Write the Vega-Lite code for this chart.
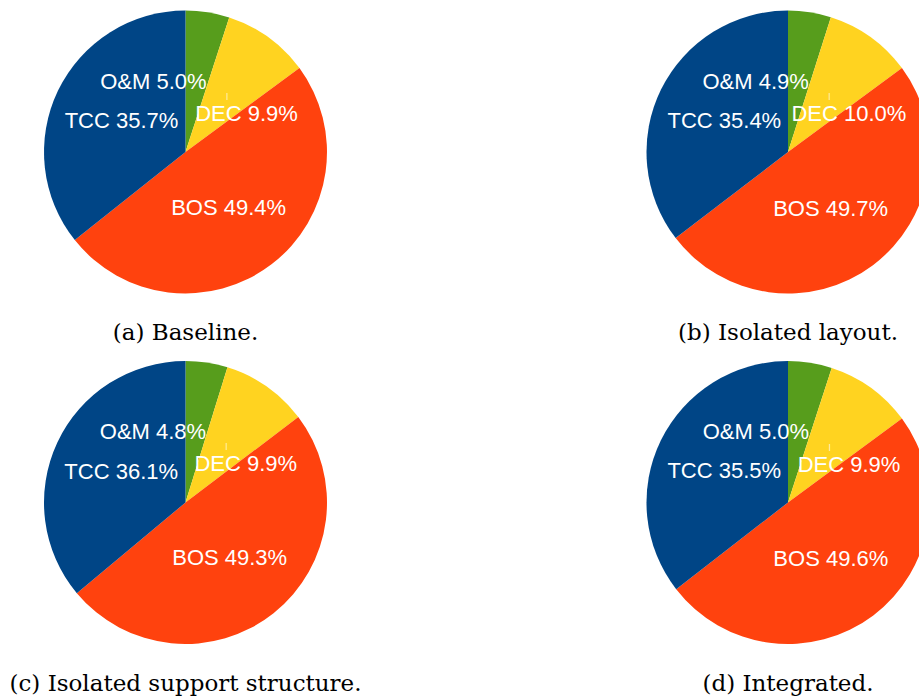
{
  "$schema": "https://vega.github.io/schema/vega-lite/v6.json",
  "padding": 0,
  "background": "white",
  "bounds": "flush",
  "columns": 2,
  "spacing": {"row": 46.5, "column": 231.5},
  "datasets": {
    "shares": [
      {"panel": "a", "item": "O&M", "seq": 1, "share": 5.0},
      {"panel": "a", "item": "DEC", "seq": 2, "share": 9.9},
      {"panel": "a", "item": "BOS", "seq": 3, "share": 49.4},
      {"panel": "a", "item": "TCC", "seq": 4, "share": 35.7},
      {"panel": "b", "item": "O&M", "seq": 1, "share": 4.9},
      {"panel": "b", "item": "DEC", "seq": 2, "share": 10.0},
      {"panel": "b", "item": "BOS", "seq": 3, "share": 49.7},
      {"panel": "b", "item": "TCC", "seq": 4, "share": 35.4},
      {"panel": "c", "item": "O&M", "seq": 1, "share": 4.8},
      {"panel": "c", "item": "DEC", "seq": 2, "share": 9.9},
      {"panel": "c", "item": "BOS", "seq": 3, "share": 49.3},
      {"panel": "c", "item": "TCC", "seq": 4, "share": 36.1},
      {"panel": "d", "item": "O&M", "seq": 1, "share": 5.0},
      {"panel": "d", "item": "DEC", "seq": 2, "share": 9.9},
      {"panel": "d", "item": "BOS", "seq": 3, "share": 49.6},
      {"panel": "d", "item": "TCC", "seq": 4, "share": 35.5}
    ]
  },
  "config": {
    "view": {"stroke": null},
    "title": {"font": "DejaVu Serif", "fontSize": 23, "fontWeight": "normal", "color": "black", "anchor": "middle", "orient": "bottom", "baseline": "alphabetic", "offset": 18},
    "text": {"font": "Liberation Sans", "fontSize": 22, "fill": "white"}
  },
  "concat": [
    {
      "width": 371, "height": 304,
      "title": "(a) Baseline.",
      "data": {"name": "shares"},
      "transform": [
        {"filter": "datum.panel === 'a'"},
        {"calculate": "datum.item + ' ' + format(datum.share, '.1f') + '%'", "as": "label"}
      ],
      "encoding": {
        "theta": {"field": "share", "type": "quantitative", "stack": true},
        "order": {"field": "seq", "type": "quantitative"}
      },
      "layer": [
        {"mark": {"type": "arc", "outerRadius": 141.5},
         "encoding": {"color": {"field": "item", "type": "nominal", "legend": null, "scale": {"domain": ["TCC", "BOS", "DEC", "O&M"], "range": ["#004586", "#ff420e", "#ffd320", "#579d1c"]}}}},
        {"mark": {"type": "text", "radius": 71},
         "encoding": {"text": {"condition": {"test": "datum.item === 'O&M' || datum.item === 'DEC'", "value": ""}, "field": "label"}}},
        {"mark": {"type": "text", "radius": 71, "align": "right", "dx": 10},
         "encoding": {"text": {"condition": {"test": "datum.item === 'O&M'", "field": "label"}, "value": ""}}},
        {"mark": {"type": "text", "radius": 71, "dx": 19.5, "dy": 20},
         "encoding": {"text": {"condition": {"test": "datum.item === 'DEC'", "field": "label"}, "value": ""}}},
        {"mark": {"type": "text", "radius": 71, "dy": 2, "fontSize": 7},
         "encoding": {"text": {"condition": {"test": "datum.item === 'DEC'", "value": "|"}, "value": ""}}}
      ]
    },
    {
      "width": 371, "height": 304,
      "title": "(b) Isolated layout.",
      "data": {"name": "shares"},
      "transform": [
        {"filter": "datum.panel === 'b'"},
        {"calculate": "datum.item + ' ' + format(datum.share, '.1f') + '%'", "as": "label"}
      ],
      "encoding": {
        "theta": {"field": "share", "type": "quantitative", "stack": true},
        "order": {"field": "seq", "type": "quantitative"}
      },
      "layer": [
        {"mark": {"type": "arc", "outerRadius": 141.5},
         "encoding": {"color": {"field": "item", "type": "nominal", "legend": null, "scale": {"domain": ["TCC", "BOS", "DEC", "O&M"], "range": ["#004586", "#ff420e", "#ffd320", "#579d1c"]}}}},
        {"mark": {"type": "text", "radius": 71},
         "encoding": {"text": {"condition": {"test": "datum.item === 'O&M' || datum.item === 'DEC'", "value": ""}, "field": "label"}}},
        {"mark": {"type": "text", "radius": 71, "align": "right", "dx": 10},
         "encoding": {"text": {"condition": {"test": "datum.item === 'O&M'", "field": "label"}, "value": ""}}},
        {"mark": {"type": "text", "radius": 71, "dx": 19.5, "dy": 20},
         "encoding": {"text": {"condition": {"test": "datum.item === 'DEC'", "field": "label"}, "value": ""}}},
        {"mark": {"type": "text", "radius": 71, "dy": 2, "fontSize": 7},
         "encoding": {"text": {"condition": {"test": "datum.item === 'DEC'", "value": "|"}, "value": ""}}}
      ]
    },
    {
      "width": 371, "height": 304,
      "title": "(c) Isolated support structure.",
      "data": {"name": "shares"},
      "transform": [
        {"filter": "datum.panel === 'c'"},
        {"calculate": "datum.item + ' ' + format(datum.share, '.1f') + '%'", "as": "label"}
      ],
      "encoding": {
        "theta": {"field": "share", "type": "quantitative", "stack": true},
        "order": {"field": "seq", "type": "quantitative"}
      },
      "layer": [
        {"mark": {"type": "arc", "outerRadius": 141.5},
         "encoding": {"color": {"field": "item", "type": "nominal", "legend": null, "scale": {"domain": ["TCC", "BOS", "DEC", "O&M"], "range": ["#004586", "#ff420e", "#ffd320", "#579d1c"]}}}},
        {"mark": {"type": "text", "radius": 71},
         "encoding": {"text": {"condition": {"test": "datum.item === 'O&M' || datum.item === 'DEC'", "value": ""}, "field": "label"}}},
        {"mark": {"type": "text", "radius": 71, "align": "right", "dx": 10},
         "encoding": {"text": {"condition": {"test": "datum.item === 'O&M'", "field": "label"}, "value": ""}}},
        {"mark": {"type": "text", "radius": 71, "dx": 19.5, "dy": 20},
         "encoding": {"text": {"condition": {"test": "datum.item === 'DEC'", "field": "label"}, "value": ""}}},
        {"mark": {"type": "text", "radius": 71, "dy": 2, "fontSize": 7},
         "encoding": {"text": {"condition": {"test": "datum.item === 'DEC'", "value": "|"}, "value": ""}}}
      ]
    },
    {
      "width": 371, "height": 304,
      "title": "(d) Integrated.",
      "data": {"name": "shares"},
      "transform": [
        {"filter": "datum.panel === 'd'"},
        {"calculate": "datum.item + ' ' + format(datum.share, '.1f') + '%'", "as": "label"}
      ],
      "encoding": {
        "theta": {"field": "share", "type": "quantitative", "stack": true},
        "order": {"field": "seq", "type": "quantitative"}
      },
      "layer": [
        {"mark": {"type": "arc", "outerRadius": 141.5},
         "encoding": {"color": {"field": "item", "type": "nominal", "legend": null, "scale": {"domain": ["TCC", "BOS", "DEC", "O&M"], "range": ["#004586", "#ff420e", "#ffd320", "#579d1c"]}}}},
        {"mark": {"type": "text", "radius": 71},
         "encoding": {"text": {"condition": {"test": "datum.item === 'O&M' || datum.item === 'DEC'", "value": ""}, "field": "label"}}},
        {"mark": {"type": "text", "radius": 71, "align": "right", "dx": 10},
         "encoding": {"text": {"condition": {"test": "datum.item === 'O&M'", "field": "label"}, "value": ""}}},
        {"mark": {"type": "text", "radius": 71, "dx": 19.5, "dy": 20},
         "encoding": {"text": {"condition": {"test": "datum.item === 'DEC'", "field": "label"}, "value": ""}}},
        {"mark": {"type": "text", "radius": 71, "dy": 2, "fontSize": 7},
         "encoding": {"text": {"condition": {"test": "datum.item === 'DEC'", "value": "|"}, "value": ""}}}
      ]
    }
  ]
}
